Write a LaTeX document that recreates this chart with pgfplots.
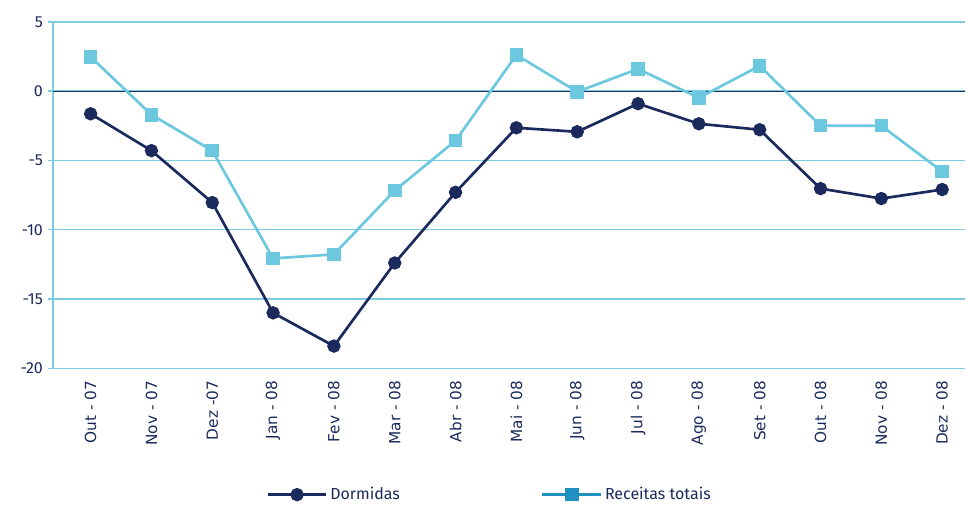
\documentclass[border=0pt]{standalone}
\usepackage{pgfplots}
\pgfplotsset{compat=1.18}
\usepackage{fontspec}
\setmainfont{Fira Sans}
\newfontfamily\labelfont{DejaVu Sans}
\definecolor{navy}{HTML}{1B2A5C}
\definecolor{cyanl}{HTML}{6CC8DE}
\definecolor{gridc}{HTML}{7DCDE2}
\definecolor{legblue}{HTML}{2090C0}

\begin{document}
\begin{tikzpicture}
\begin{axis}[
    width=685pt, height=260pt,
    scale only axis,
    xmin=-0.62, xmax=14.38,
    ymin=-20, ymax=5,
    ytick={-20,-15,-10,-5,0,5},
    xtick={0,...,14},
    xticklabels={Out - 07,Nov - 07,Dez -07,Jan - 08,Fev - 08,Mar - 08,Abr - 08,Mai - 08,Jun - 08,Jul - 08,Ago - 08,Set - 08,Out - 08,Nov - 08,Dez - 08},
    xticklabel style={rotate=90, anchor=east, font=\labelfont\fontsize{11.5}{12}\selectfont, text=navy},
    yticklabel style={font=\fontsize{12}{13}\selectfont, text=navy},
    /pgf/number format/assume math mode=true,
    axis x line*=bottom,
    axis y line*=left,
    x axis line style={draw=none},
    y axis line style={gridc, line width=1.2pt, -},
    ymajorgrids,
    grid style={gridc, line width=1.1pt},
    major y tick style={gridc, line width=1.1pt},
    major tick length=4pt,
    tick align=outside,
    x tick style={draw=none},
    xticklabel shift=2pt,
    extra y ticks={0},
    extra y tick labels={},
    extra y tick style={grid style={navy, line width=0.9pt}},
    clip=false,
    legend style={at={(0.479,-0.365)}, anchor=center, draw=none, legend columns=2,
        font=\fontsize{12}{13}\selectfont, text=navy,
        /tikz/every even column/.append style={column sep=104pt}},
    legend image code/.code={\draw[#1, mark repeat=2, mark phase=2] plot coordinates {(0pt,0pt) (22pt,0pt) (44pt,0pt)};},
]
\addplot[navy, line width=2pt, mark=*, mark size=4pt, mark options={fill=navy}]
  coordinates {(0,-1.63) (1,-4.29) (2,-8.04) (3,-16.0) (4,-18.4) (5,-12.4) (6,-7.3) (7,-2.64) (8,-2.93) (9,-0.9) (10,-2.35) (11,-2.78) (12,-7.03) (13,-7.75) (14,-7.1)};
\addlegendentry{Dormidas}
\addplot[cyanl, line width=2pt, mark=square*, mark size=4.1pt, mark options={fill=cyanl}, forget plot]
  coordinates {(0,2.48) (1,-1.7) (2,-4.29) (3,-12.07) (4,-11.78) (5,-7.17) (6,-3.57) (7,2.62) (8,-0.04) (9,1.61) (10,-0.48) (11,1.83) (12,-2.49) (13,-2.49) (14,-5.8)};
\addlegendimage{legblue, line width=2pt, mark=square*, mark size=4.1pt, mark options={fill=legblue}}
\addlegendentry{Receitas totais}
\path (rel axis cs:-0.058,1.0634) rectangle (rel axis cs:1.0,-0.4006);
\end{axis}
\end{tikzpicture}
\end{document}
